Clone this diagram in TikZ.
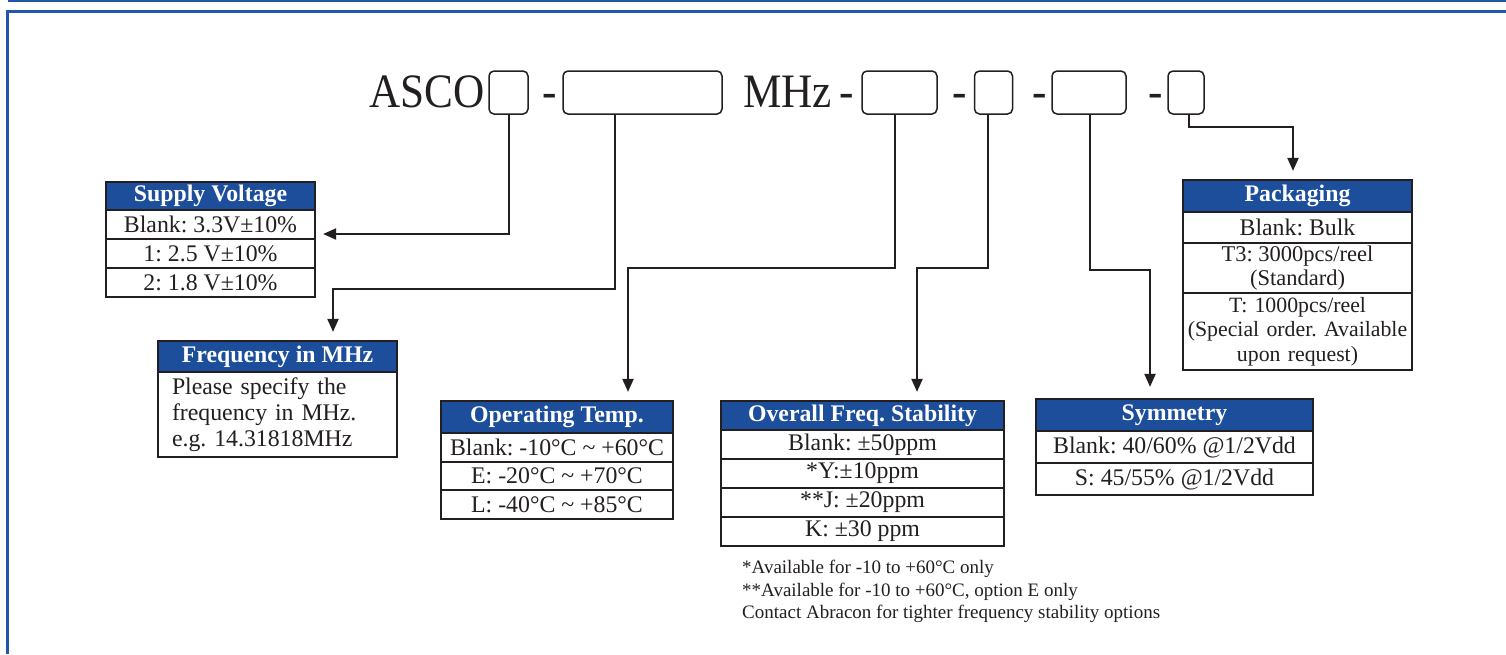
\documentclass[tikz,border=0pt]{standalone}
\usepackage{fontspec}
\setmainfont{Liberation Serif}
\usetikzlibrary{arrows.meta}
\definecolor{hdrblue}{RGB}{28,78,155}
\definecolor{frameblue}{RGB}{33,87,168}
\definecolor{ink}{RGB}{35,31,32}
\frenchspacing
\begin{document}
\begin{tikzpicture}[x=1pt,y=-1pt,
  pbox/.style={draw=ink, line width=1.5pt, rounded corners=5pt, inner sep=0pt, minimum height=43pt},
  hdr/.style={draw=ink, fill=hdrblue, line width=2.2pt, text=white, inner sep=0pt,
     font=\fontsize{23.8}{26}\selectfont\bfseries},
  cell/.style={draw=ink, line width=2.2pt, text=ink, inner sep=0pt, align=center,
     font=\fontsize{23.8}{24.5}\selectfont},
  big/.style={text=ink, inner sep=0pt, font=\fontsize{48}{50}\selectfont},
  arr/.style={draw=ink, line width=2pt, -{Triangle[length=13pt,width=11pt]}},
  note/.style={text=ink, inner sep=0pt, align=left, font=\fontsize{19}{22.5}\selectfont}]
\useasboundingbox (0,0) rectangle (1506,654);
\fill[white] (0,0) rectangle (1506,654);
% frame
\draw[frameblue, line width=1.5pt] (8,0.8) -- (1506,0.8);
\draw[frameblue, line width=3pt] (7.5,654) -- (7.5,11.3) -- (1506,11.3);
% part number line
\node[big, anchor=base west] (asco) at (369,107) {\scalebox{0.9}[1]{ASCO}};
\node[pbox, minimum width=39pt] (b1) at (508.5,92.5) {};
\node[big, anchor=base] (d1) at (549.5,107) {\scalebox{0.9}[1]{-}};
\node[pbox, minimum width=159pt] (b2) at (642.5,92.5) {};
\node[big, anchor=base west] (mhz) at (743,107) {\scalebox{0.9}[1]{MHz}};
\node[big, anchor=base] (d2) at (847,107) {\scalebox{0.9}[1]{-}};
\node[pbox, minimum width=75pt] (b3) at (899.5,92.5) {};
\node[big, anchor=base] (d3) at (960,107) {\scalebox{0.9}[1]{-}};
\node[pbox, minimum width=38pt] (b4) at (993.5,92.5) {};
\node[big, anchor=base] (d4) at (1039.5,107) {\scalebox{0.9}[1]{-}};
\node[pbox, minimum width=74pt] (b5) at (1089,92.5) {};
\node[big, anchor=base] (d5) at (1156,107) {\scalebox{0.9}[1]{-}};
\node[pbox, minimum width=36pt] (b6) at (1186,92.5) {};
% Supply Voltage
\node[hdr, minimum width=209pt, minimum height=28pt] (sv) at (210.5,196) {Supply Voltage};
\node[cell, minimum width=209pt, minimum height=29pt] (sv1) at (210.5,224.5) {Blank: 3.3V±10\%};
\node[cell, minimum width=209pt, minimum height=29pt] (sv2) at (210.5,253.5) {1: 2.5 V±10\%};
\node[cell, minimum width=209pt, minimum height=29pt] (sv3) at (210.5,282.5) {2: 1.8 V±10\%};
% Frequency
\node[hdr, minimum width=239pt, minimum height=31pt] (fq) at (277.5,356.5) {Frequency in MHz};
\node[cell, minimum height=85pt, text width=211pt, inner xsep=14pt, align=left,
      font=\fontsize{23.8}{26}\selectfont] (fq1) at (277.5,414.5)
      {Please specify the\\frequency in MHz.\\e.g. 14.31818MHz};
% Operating Temp
\node[hdr, minimum width=232pt, minimum height=32pt] (ot) at (557,417) {Operating Temp.};
\node[cell, minimum width=232pt, minimum height=29pt] (ot1) at (557,447.5) {Blank: -10°C \textasciitilde{} +60°C};
\node[cell, minimum width=232pt, minimum height=28pt] (ot2) at (557,476) {E: -20°C \textasciitilde{} +70°C};
\node[cell, minimum width=232pt, minimum height=29pt] (ot3) at (557,504.5) {L: -40°C \textasciitilde{} +85°C};
% Stability
\node[hdr, minimum width=283pt, minimum height=29pt] (fs) at (862.5,415.5) {Overall Freq. Stability};
\node[cell, minimum width=283pt, minimum height=29pt] (fs1) at (862.5,444.5) {Blank: ±50ppm};
\node[cell, minimum width=283pt, minimum height=29pt] (fs2) at (862.5,473.5) {*Y:±10ppm};
\node[cell, minimum width=283pt, minimum height=29pt] (fs3) at (862.5,502.5) {**J: ±20ppm};
\node[cell, minimum width=283pt, minimum height=29pt] (fs4) at (862.5,531.5) {K: ±30 ppm};
\node[note, anchor=north west] (fn) at (742,560)
  {*Available for -10 to +60°C only\\**Available for -10 to +60°C, option E only\\Contact Abracon for tighter frequency stability options};
% Symmetry
\node[hdr, minimum width=277pt, minimum height=32pt] (sy) at (1174.5,415) {Symmetry};
\node[cell, minimum width=277pt, minimum height=32pt] (sy1) at (1174.5,447) {Blank: 40/60\% @1/2Vdd};
\node[cell, minimum width=277pt, minimum height=32pt] (sy2) at (1174.5,479) {S: 45/55\% @1/2Vdd};
% Packaging
\node[hdr, minimum width=229pt, minimum height=32pt] (pk) at (1297.5,196) {Packaging};
\node[cell, minimum width=229pt, minimum height=31pt] (pk1) at (1297.5,227.5) {Blank: Bulk};
\node[cell, minimum width=229pt, minimum height=50pt, font=\fontsize{22.5}{23.5}\selectfont] (pk2) at (1297.5,268) {T3: 3000pcs/reel\\(Standard)};
\node[cell, minimum width=229pt, minimum height=77pt, text width=229pt, font=\fontsize{21.8}{24.5}\selectfont] (pk3) at (1297.5,331.5) {T: 1000pcs/reel\\(Special order. Available\\upon request)};
% connectors
\draw[arr, shorten >=7pt] (509,0 |- b1.south) |- (sv1.east |- 0,234);
\draw[arr, shorten >=8pt] (615,0 |- b2.south) |- (333,289) -- (333,0 |- fq.north);
\draw[arr, shorten >=8pt] (895,0 |- b3.south) |- (628,268) -- (628,0 |- ot.north);
\draw[arr, shorten >=8pt] (988,0 |- b4.south) |- (917,268) -- (917,0 |- fs.north);
\draw[arr, shorten >=11pt] (1090,0 |- b5.south) |- (1150,270) -- (1150,0 |- sy.north);
\draw[arr, shorten >=8pt] (1189,0 |- b6.south) |- (1293,127) -- (1293,0 |- pk.north);
\end{tikzpicture}
\end{document}
